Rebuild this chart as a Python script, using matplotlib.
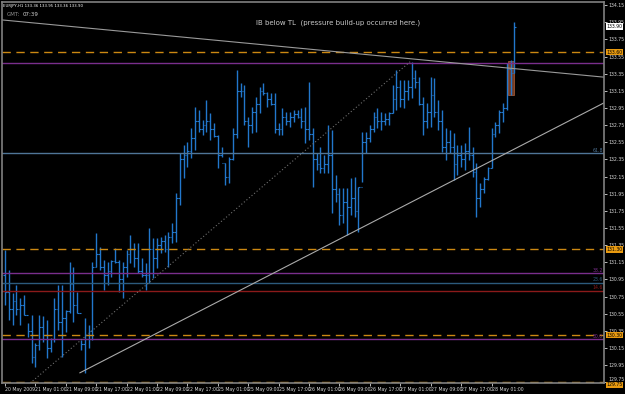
import numpy as np
import matplotlib
matplotlib.use('Agg')
import matplotlib.pyplot as plt
from matplotlib import font_manager
from matplotlib.patches import Rectangle
from matplotlib.transforms import blended_transform_factory

# EURJPY H1 bars, 20 May 2009 17:00 .. 28 May 2009
bar_high = [131.29, 131.06, 130.79, 130.88, 130.73, 130.77, 130.44, 130.53, 130.21, 130.53,
            130.52, 130.48, 130.27, 130.73, 130.88, 130.88, 130.59, 131.15, 131.09, 130.80,
            130.24, 130.50, 130.42, 131.15, 131.49, 131.33, 131.18, 131.15, 131.18, 131.32,
            131.18, 131.15, 131.29, 131.47, 131.37, 131.37, 131.20, 131.14, 131.55, 131.43,
            131.43, 131.44, 131.47, 131.50, 131.61, 131.96, 132.42, 132.52, 132.55, 132.72,
            132.96, 132.93, 132.81, 133.04, 132.89, 132.77, 132.63, 132.49, 132.31, 132.38,
            132.72, 133.39, 133.24, 133.22, 132.84, 132.96, 133.08, 133.19, 133.24, 133.14,
            133.12, 133.12, 132.77, 132.95, 132.90, 132.90, 132.93, 132.93, 132.95, 132.96,
            133.25, 132.72, 132.42, 132.49, 132.40, 132.75, 132.69, 132.17, 132.02, 132.02,
            132.02, 132.13, 132.14, 132.03, 132.67, 132.67, 132.75, 132.90, 132.95, 132.90,
            132.89, 132.90, 133.22, 133.39, 133.28, 133.28, 133.28, 133.49, 133.39, 133.31,
            133.08, 133.01, 133.31, 133.30, 133.04, 132.93, 132.72, 132.69, 132.66, 132.52,
            132.52, 132.54, 132.73, 132.49, 132.31, 132.07, 132.14, 132.26, 132.72, 132.79,
            132.93, 133.01, 133.47, 133.51, 133.95]
bar_low = [130.65, 130.48, 130.42, 130.53, 130.42, 130.53, 130.28, 129.97, 129.93, 130.13,
           130.22, 130.03, 130.10, 130.22, 130.36, 130.04, 130.34, 130.56, 130.45, 130.56,
           130.13, 129.86, 130.15, 130.24, 131.09, 131.06, 130.83, 130.88, 130.98, 131.14,
           130.80, 130.73, 130.98, 131.14, 131.09, 131.02, 130.98, 130.83, 130.91, 130.97,
           131.08, 131.26, 131.27, 131.09, 131.37, 131.39, 131.82, 132.13, 132.26, 132.37,
           132.46, 132.67, 132.63, 132.67, 132.58, 132.61, 132.25, 132.38, 132.05, 132.07,
           132.34, 132.60, 133.08, 132.75, 132.49, 132.66, 132.67, 132.89, 133.10, 132.96,
           132.98, 132.66, 132.63, 132.63, 132.75, 132.73, 132.79, 132.83, 132.72, 132.54,
           132.58, 132.03, 132.23, 132.19, 132.19, 132.19, 131.72, 131.85, 131.58, 131.61,
           131.47, 131.70, 131.68, 131.50, 132.09, 132.42, 132.55, 132.67, 132.72, 132.69,
           132.75, 132.75, 132.89, 132.93, 132.96, 132.95, 133.04, 133.07, 133.18, 132.98,
           132.63, 132.72, 132.73, 132.84, 132.69, 132.44, 132.34, 132.42, 132.11, 132.17,
           132.26, 132.23, 132.34, 132.14, 131.68, 131.79, 131.96, 132.11, 132.25, 132.61,
           132.66, 132.79, 132.93, 133.10, 133.36]
bar_close = [130.80, 130.60, 130.70, 130.60, 130.65, 130.53, 130.35, 130.05, 130.18, 130.40,
             130.30, 130.15, 130.25, 130.60, 130.45, 130.50, 130.58, 130.90, 130.65, 130.56,
             130.20, 130.30, 130.35, 131.10, 131.25, 131.10, 131.00, 131.05, 131.16, 131.15,
             130.95, 131.10, 131.25, 131.30, 131.20, 131.05, 131.00, 131.00, 131.30, 131.20,
             131.35, 131.40, 131.30, 131.45, 131.50, 131.90, 132.35, 132.40, 132.45, 132.60,
             132.80, 132.70, 132.75, 132.80, 132.70, 132.62, 132.40, 132.31, 132.15, 132.35,
             132.65, 133.15, 133.15, 132.80, 132.75, 132.90, 133.00, 133.15, 133.12, 133.05,
             133.00, 132.70, 132.70, 132.85, 132.80, 132.85, 132.88, 132.85, 132.80, 132.70,
             132.65, 132.35, 132.30, 132.25, 132.30, 132.40, 132.00, 131.95, 131.70, 131.85,
             131.80, 131.90, 131.75, 132.03, 132.55, 132.60, 132.70, 132.85, 132.80, 132.80,
             132.82, 132.89, 133.05, 133.20, 133.05, 133.15, 133.20, 133.30, 133.25, 133.00,
             132.80, 132.90, 133.10, 132.90, 132.80, 132.50, 132.55, 132.50, 132.30, 132.40,
             132.35, 132.45, 132.40, 132.20, 131.90, 132.00, 132.12, 132.25, 132.65, 132.75,
             132.90, 132.95, 133.40, 133.36, 133.90]
first_open = 131.00
bar_open = [first_open] + bar_close[:-1]

time_labels = ['20 May 2009', '21 May 01:00', '21 May 09:00', '21 May 17:00', '22 May 01:00',
               '22 May 09:00', '22 May 17:00', '25 May 01:00', '25 May 09:00', '25 May 17:00',
               '26 May 01:00', '26 May 09:00', '26 May 17:00', '27 May 01:00', '27 May 09:00',
               '27 May 17:00', '28 May 01:00']
bars_per_label = 8

price_ticks = [129.75, 129.95, 130.15, 130.35, 130.55, 130.75, 130.95, 131.15, 131.35,
               131.55, 131.75, 131.95, 132.15, 132.35, 132.55, 132.75, 132.95, 133.15,
               133.35, 133.55, 133.75, 133.95, 134.15]

# support / resistance levels (dashed orange, with price boxes)
sr_levels = [133.60, 131.30, 130.30, 129.75]
# fibonacci style levels: price, colour, label
fib_levels = [133.48, 132.42, 131.02, 130.91, 130.82, 130.25]
fib_colors = ['#7a2e8c', '#4f7597', '#7a2e8c', '#2c5a7c', '#8b1a1a', '#7a2e8c']
fib_names = ['', '61.8', '38.2', '23.6', '14.6', '50.0']

# trend lines: (bar index, price) end points
tl_down = [(-1.3, 133.98), (157.6, 133.31)]
tl_up = [(19.7, 129.86), (157.6, 133.01)]
tl_dotted = [(6.6, 129.74), (106.6, 133.49)]

# highlighted inside bar
ib_box = [132.4, 133.10, 1.5, 0.40]  # x, price, width in bars, height in price

last_price = 133.90
symbol_header = 'EURJPY,H1 133.36 133.95 133.36 133.90'
note_text = 'IB below TL  (pressure build-up occurred here.)'


def narrow_font():
    for name in ['Liberation Sans Narrow', 'Arial Narrow']:
        try:
            font_manager.findfont(font_manager.FontProperties(family=name),
                                  fallback_to_default=False)
            return name, 4.0
        except ValueError:
            pass
    return 'DejaVu Sans', 3.3


small_family, small_size = narrow_font()
small_font = [small_family, 'DejaVu Sans']

fig = plt.figure(figsize=(6.25, 3.94), dpi=100, facecolor='black')
ax = fig.add_axes([2 / 625, 11 / 394, 602 / 625, 381 / 394])
ax.set_facecolor('black')

x = np.arange(len(bar_high))
bar_color = '#2277cc'
ax.vlines(x, bar_low, bar_high, color=bar_color, linewidth=1.0)
ax.hlines(bar_open, x - 0.45, x, color=bar_color, linewidth=0.8)
ax.hlines(bar_close, x, x + 0.45, color=bar_color, linewidth=0.8)

for level in sr_levels:
    ax.axhline(level, color='#cc8812', linewidth=1.0, linestyle=(0, (6, 4)))
for level, col, name in zip(fib_levels, fib_colors, fib_names):
    ax.axhline(level, color=col, linewidth=1.0)
    if name:
        ax.text(157.3, level + 0.01, name, color=col, fontsize=small_size, ha='right',
                va='bottom', family=small_font)

ax.plot(*zip(*tl_down), color='#9a9a9a', linewidth=0.8)
ax.plot(*zip(*tl_up), color='#aaaaaa', linewidth=0.8)
ax.plot(*zip(*tl_dotted), color='#707070', linewidth=0.8, linestyle=(0, (1, 2)))

ax.add_patch(Rectangle((ib_box[0], ib_box[1]), ib_box[2], ib_box[3],
                       facecolor='#8a4526', edgecolor='#b0603a', linewidth=0.6, alpha=0.85,
                       zorder=1))

ax.set_xlim(-0.8, 157.6)
ax.set_ylim(129.741, 134.187)

ax.yaxis.tick_right()
ax.set_yticks(price_ticks)
ax.set_yticklabels([f'{p:.2f}' for p in price_ticks], family=small_font)
ax.get_yticklabels()[0].set_va('bottom')
label_pos = np.arange(len(time_labels)) * bars_per_label
ax.set_xticks(label_pos)
ax.set_xticklabels(time_labels, family=small_font, ha='left')
ax.tick_params(axis='both', colors='#d8d8d8', labelsize=small_size, length=2, width=0.6,
               pad=1)
for side in ['left', 'right', 'bottom', 'top']:
    ax.spines[side].set_color('#808080')
    ax.spines[side].set_linewidth(1.2)

trans = blended_transform_factory(ax.transAxes, ax.transData)
for level in sr_levels:
    box_va = 'top' if level == min(sr_levels) else 'center'
    ax.text(1.004, level, f'{level:.2f}', transform=trans, fontsize=small_size, color='black',
            family=small_font, va=box_va, ha='left', clip_on=False,
            bbox=dict(boxstyle='square,pad=0.15', facecolor='#e89a10', edgecolor='none'))
ax.text(1.004, last_price, f'{last_price:.2f}', transform=trans, fontsize=small_size,
        color='black', family=small_font, va='center', ha='left', clip_on=False,
        bbox=dict(boxstyle='square,pad=0.15', facecolor='white', edgecolor='none'))

fig.text(3 / 625, 1 - 6 / 394, symbol_header, color='white', fontsize=small_size * 0.85,
         family=small_font, va='center')
fig.text(7 / 625, 1 - 14 / 394, 'GMT:', color='#909090', fontsize=4, va='center')
fig.text(23 / 625, 1 - 14 / 394, '07:39', color='#d0d0d0', fontsize=4, va='center')
fig.text(256 / 625, 1 - 23 / 394, note_text, color='#c8c8c8', fontsize=5, va='center')

fig.savefig('out.png', dpi=100, facecolor='black')
